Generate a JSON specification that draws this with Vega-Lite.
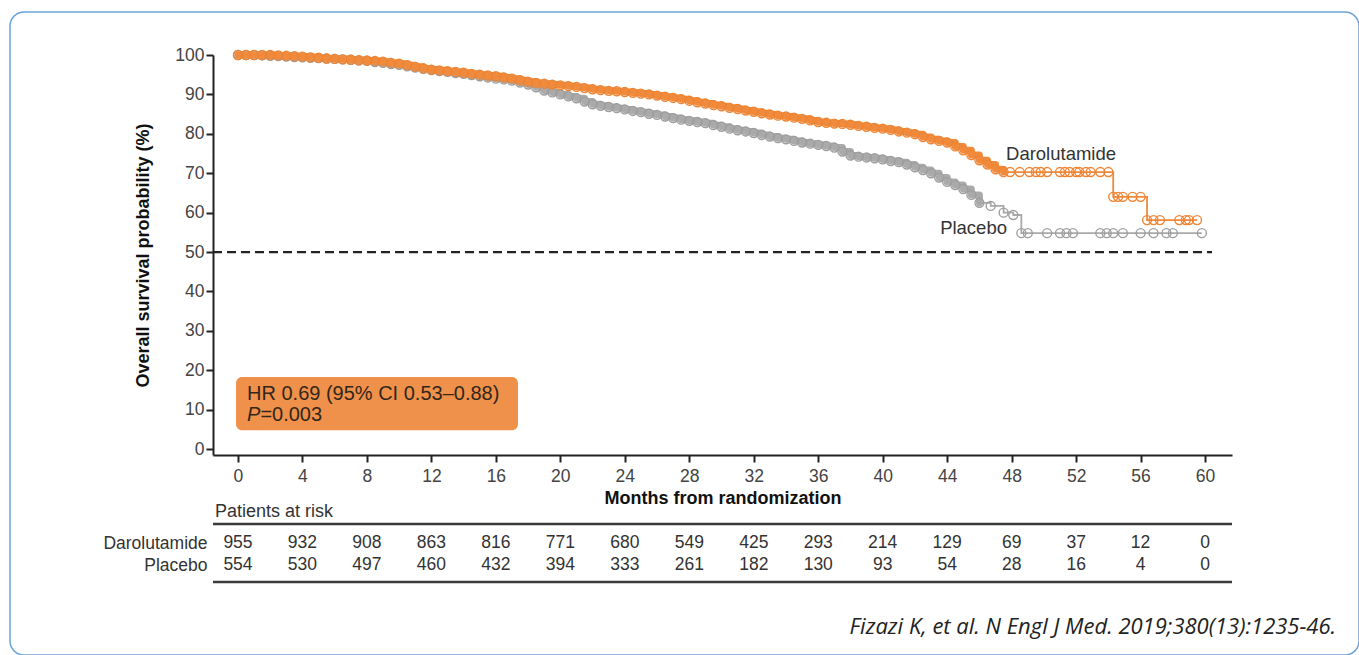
{
  "$schema": "https://vega.github.io/schema/vega-lite/v6.json",
  "width": 1349,
  "height": 643,
  "autosize": {"type": "none"},
  "padding": {"left": 10, "top": 12, "right": 0, "bottom": 0},
  "background": "white",
  "config": {
    "view": {"stroke": "#6FA3DC", "strokeWidth": 1.5, "cornerRadius": 14, "fill": "white"},
    "font": "Liberation Sans",
    "text": {"font": "Liberation Sans"}
  },
  "datasets": {
    "one": [{}],
    "dar": [
      {"m":0,"s":100},{"m":0.5,"s":100},{"m":1,"s":100},{"m":1.5,"s":100},{"m":2,"s":100},{"m":2.5,"s":99.9},
      {"m":3,"s":99.8},{"m":3.5,"s":99.7},{"m":4,"s":99.6},{"m":4.5,"s":99.4},{"m":5,"s":99.3},{"m":5.5,"s":99.1},
      {"m":6,"s":99.0},{"m":6.5,"s":98.9},{"m":7,"s":98.8},{"m":7.5,"s":98.7},{"m":8,"s":98.6},{"m":8.5,"s":98.5},
      {"m":9,"s":98.3},{"m":9.5,"s":98.0},{"m":10,"s":97.8},{"m":10.5,"s":97.4},{"m":11,"s":97.0},{"m":11.5,"s":96.6},
      {"m":12,"s":96.3},{"m":12.5,"s":96.1},{"m":13,"s":95.9},{"m":13.5,"s":95.7},{"m":14,"s":95.5},{"m":14.5,"s":95.2},
      {"m":15,"s":95.0},{"m":15.5,"s":94.8},{"m":16,"s":94.6},{"m":16.5,"s":94.3},{"m":17,"s":94.0},{"m":17.5,"s":93.6},
      {"m":18,"s":93.2},{"m":18.5,"s":92.9},{"m":19,"s":92.7},{"m":19.5,"s":92.5},{"m":20,"s":92.3},{"m":20.5,"s":92.1},
      {"m":21,"s":91.9},{"m":21.5,"s":91.6},{"m":22,"s":91.3},{"m":22.5,"s":91.1},{"m":23,"s":90.9},{"m":23.5,"s":90.8},
      {"m":24,"s":90.6},{"m":24.5,"s":90.4},{"m":25,"s":90.2},{"m":25.5,"s":90.0},{"m":26,"s":89.7},{"m":26.5,"s":89.4},
      {"m":27,"s":89.1},{"m":27.5,"s":88.8},{"m":28,"s":88.4},{"m":28.5,"s":88.0},{"m":29,"s":87.7},{"m":29.5,"s":87.3},
      {"m":30,"s":87.0},{"m":30.5,"s":86.6},{"m":31,"s":86.3},{"m":31.5,"s":85.9},{"m":32,"s":85.6},{"m":32.5,"s":85.2},
      {"m":33,"s":84.9},{"m":33.5,"s":84.6},{"m":34,"s":84.4},{"m":34.5,"s":84.1},{"m":35,"s":83.8},{"m":35.5,"s":83.4},
      {"m":36,"s":83.0},{"m":36.5,"s":82.8},{"m":37,"s":82.6},{"m":37.5,"s":82.5},{"m":38,"s":82.3},{"m":38.5,"s":82.0},
      {"m":39,"s":81.8},{"m":39.5,"s":81.5},{"m":40,"s":81.3},{"m":40.5,"s":81.0},{"m":41,"s":80.6},{"m":41.5,"s":80.3},
      {"m":42,"s":79.9},{"m":42.5,"s":79.2},{"m":43,"s":78.6},{"m":43.5,"s":78.2},{"m":44,"s":77.8},{"m":44.5,"s":76.8},
      {"m":45,"s":75.8},{"m":45.5,"s":74.6},{"m":46,"s":73.3},{"m":46.5,"s":72.2},{"m":47,"s":71.0},{"m":47.5,"s":70.3},
      {"m":47.9,"s":70.3},{"m":48.5,"s":70.3},{"m":49.1,"s":70.3},{"m":49.5,"s":70.3},{"m":49.8,"s":70.3},{"m":50.2,"s":70.3},
      {"m":51.0,"s":70.3},{"m":51.3,"s":70.3},{"m":51.6,"s":70.3},{"m":52.0,"s":70.3},{"m":52.2,"s":70.3},{"m":52.6,"s":70.3},
      {"m":52.9,"s":70.3},{"m":53.5,"s":70.3},{"m":54.0,"s":70.3},
      {"m":54.3,"s":64.0},{"m":54.6,"s":64.0},{"m":54.9,"s":64.0},{"m":55.5,"s":64.0},{"m":56.0,"s":64.0},
      {"m":56.4,"s":58.1},{"m":56.8,"s":58.1},{"m":57.2,"s":58.1},{"m":58.4,"s":58.1},{"m":58.8,"s":58.1},{"m":59.0,"s":58.1},{"m":59.5,"s":58.1}
    ],
    "pla": [
      {"m":0,"s":100},{"m":0.5,"s":100},{"m":1,"s":100},{"m":1.5,"s":99.9},{"m":2,"s":99.8},{"m":2.5,"s":99.7},
      {"m":3,"s":99.6},{"m":3.5,"s":99.5},{"m":4,"s":99.4},{"m":4.5,"s":99.3},{"m":5,"s":99.2},{"m":5.5,"s":99.1},
      {"m":6,"s":99.0},{"m":6.5,"s":98.9},{"m":7,"s":98.8},{"m":7.5,"s":98.6},{"m":8,"s":98.5},{"m":8.5,"s":98.2},
      {"m":9,"s":98.0},{"m":9.5,"s":97.7},{"m":10,"s":97.5},{"m":10.5,"s":97.1},{"m":11,"s":96.8},{"m":11.5,"s":96.5},
      {"m":12,"s":96.2},{"m":12.5,"s":95.9},{"m":13,"s":95.7},{"m":13.5,"s":95.4},{"m":14,"s":95.2},{"m":14.5,"s":94.9},
      {"m":15,"s":94.6},{"m":15.5,"s":94.3},{"m":16,"s":94.0},{"m":16.5,"s":93.8},{"m":17,"s":93.5},{"m":17.5,"s":93.0},
      {"m":18,"s":92.5},{"m":18.5,"s":91.8},{"m":19,"s":91.0},{"m":19.5,"s":90.5},{"m":20,"s":90.0},{"m":20.5,"s":89.5},
      {"m":21,"s":89.0},{"m":21.5,"s":88.2},{"m":22,"s":87.5},{"m":22.5,"s":87.1},{"m":23,"s":86.8},{"m":23.5,"s":86.5},
      {"m":24,"s":86.2},{"m":24.5,"s":85.8},{"m":25,"s":85.5},{"m":25.5,"s":85.1},{"m":26,"s":84.8},{"m":26.5,"s":84.4},
      {"m":27,"s":84.0},{"m":27.5,"s":83.6},{"m":28,"s":83.3},{"m":28.5,"s":83.0},{"m":29,"s":82.7},{"m":29.5,"s":82.2},
      {"m":30,"s":81.8},{"m":30.5,"s":81.3},{"m":31,"s":80.9},{"m":31.5,"s":80.6},{"m":32,"s":80.2},{"m":32.5,"s":79.7},
      {"m":33,"s":79.3},{"m":33.5,"s":78.9},{"m":34,"s":78.6},{"m":34.5,"s":78.2},{"m":35,"s":77.8},{"m":35.5,"s":77.5},
      {"m":36,"s":77.2},{"m":36.5,"s":76.9},{"m":37,"s":76.5},{"m":37.5,"s":75.5},{"m":38,"s":74.5},{"m":38.5,"s":74.2},
      {"m":39,"s":74.0},{"m":39.5,"s":73.8},{"m":40,"s":73.5},{"m":40.5,"s":73.1},{"m":41,"s":72.8},{"m":41.5,"s":72.2},
      {"m":42,"s":71.5},{"m":42.5,"s":70.8},{"m":43,"s":70.0},{"m":43.5,"s":68.9},{"m":44,"s":67.8},{"m":44.5,"s":67.0},
      {"m":45,"s":66.0},{"m":45.5,"s":64.5},{"m":46,"s":62.5},{"m":46.7,"s":61.7},{"m":47.5,"s":60.0},{"m":48.1,"s":59.4},
      {"m":48.6,"s":54.8},{"m":49.0,"s":54.8},{"m":50.2,"s":54.8},{"m":51.0,"s":54.8},{"m":51.4,"s":54.8},{"m":51.8,"s":54.8},
      {"m":53.5,"s":54.8},{"m":53.9,"s":54.8},{"m":54.3,"s":54.8},{"m":54.9,"s":54.8},{"m":56.0,"s":54.8},{"m":56.8,"s":54.8},
      {"m":57.6,"s":54.8},{"m":58.0,"s":54.8},{"m":59.8,"s":54.8}
    ],
    "risk": [
      {"g":"Darolutamide","m":0,"n":955},{"g":"Darolutamide","m":4,"n":932},{"g":"Darolutamide","m":8,"n":908},{"g":"Darolutamide","m":12,"n":863},
      {"g":"Darolutamide","m":16,"n":816},{"g":"Darolutamide","m":20,"n":771},{"g":"Darolutamide","m":24,"n":680},{"g":"Darolutamide","m":28,"n":549},
      {"g":"Darolutamide","m":32,"n":425},{"g":"Darolutamide","m":36,"n":293},{"g":"Darolutamide","m":40,"n":214},{"g":"Darolutamide","m":44,"n":129},
      {"g":"Darolutamide","m":48,"n":69},{"g":"Darolutamide","m":52,"n":37},{"g":"Darolutamide","m":56,"n":12},{"g":"Darolutamide","m":60,"n":0},
      {"g":"Placebo","m":0,"n":554},{"g":"Placebo","m":4,"n":530},{"g":"Placebo","m":8,"n":497},{"g":"Placebo","m":12,"n":460},
      {"g":"Placebo","m":16,"n":432},{"g":"Placebo","m":20,"n":394},{"g":"Placebo","m":24,"n":333},{"g":"Placebo","m":28,"n":261},
      {"g":"Placebo","m":32,"n":182},{"g":"Placebo","m":36,"n":130},{"g":"Placebo","m":40,"n":93},{"g":"Placebo","m":44,"n":54},
      {"g":"Placebo","m":48,"n":28},{"g":"Placebo","m":52,"n":16},{"g":"Placebo","m":56,"n":4},{"g":"Placebo","m":60,"n":0}
    ]
  },
  "layer": [
    {
      "layer": [
        {
          "data": {"name": "pla"},
          "transform": [{"filter": "datum.m <= 46"}],
          "mark": {"type": "line", "interpolate": "step-after", "strokeWidth": 7, "strokeJoin": "round", "strokeCap": "round", "color": "#ABABAB"},
          "encoding": {
            "x": {"field": "m", "type": "quantitative",
              "scale": {"domain": [-1.55, 61.67], "range": [203, 1222], "nice": false, "zero": false},
              "axis": {"orient": "bottom", "offset": -200, "values": [0,4,8,12,16,20,24,28,32,36,40,44,48,52,56,60],
                "title": "Months from randomization", "titleFontSize": 18, "titleFontWeight": "bold", "titleColor": "#111",
                "titlePadding": 5, "labelFontSize": 17.5, "labelColor": "#444", "labelPadding": 5, "labelFlush": false,
                "tickSize": 7, "tickColor": "#222", "tickWidth": 2, "domainColor": "#222", "domainWidth": 2, "grid": false}},
            "y": {"field": "s", "type": "quantitative",
              "scale": {"domain": [-1.5, 100], "range": [443, 43], "nice": false, "zero": false},
              "axis": {"orient": "left", "offset": -203, "values": [0,10,20,30,40,50,60,70,80,90,100],
                "title": "Overall survival probability (%)", "titleFontSize": 18, "titleFontWeight": "bold", "titleColor": "#111",
                "titlePadding": 22, "labelFontSize": 17.5, "labelColor": "#444", "labelPadding": 2,
                "tickSize": 7, "tickColor": "#222", "tickWidth": 2, "domainColor": "#222", "domainWidth": 2, "grid": false}}
          }
        },
        {
          "data": {"name": "pla"},
          "mark": {"type": "line", "interpolate": "step-after", "strokeWidth": 1.8, "color": "#A9A9A9"},
          "encoding": {"x": {"field": "m", "type": "quantitative"}, "y": {"field": "s", "type": "quantitative"}}
        },
        {
          "data": {"name": "pla"},
          "mark": {"type": "point", "shape": "circle", "filled": false, "size": 80, "strokeWidth": 1.4, "color": "#9E9E9E", "opacity": 1},
          "encoding": {"x": {"field": "m", "type": "quantitative"}, "y": {"field": "s", "type": "quantitative"}}
        },
        {
          "data": {"name": "dar"},
          "transform": [{"filter": "datum.m <= 47.5"}],
          "mark": {"type": "line", "interpolate": "step-after", "strokeWidth": 7, "strokeJoin": "round", "strokeCap": "round", "color": "#F08A3C"},
          "encoding": {"x": {"field": "m", "type": "quantitative"}, "y": {"field": "s", "type": "quantitative"}}
        },
        {
          "data": {"name": "dar"},
          "mark": {"type": "line", "interpolate": "step-after", "strokeWidth": 1.8, "color": "#F08A3C"},
          "encoding": {"x": {"field": "m", "type": "quantitative"}, "y": {"field": "s", "type": "quantitative"}}
        },
        {
          "data": {"name": "dar"},
          "mark": {"type": "point", "shape": "circle", "filled": false, "size": 80, "strokeWidth": 1.4, "color": "#EE8534", "opacity": 1},
          "encoding": {"x": {"field": "m", "type": "quantitative"}, "y": {"field": "s", "type": "quantitative"}}
        },
        {
          "data": {"name": "one"},
          "mark": {"type": "rule", "color": "#222", "strokeWidth": 2.2, "strokeDash": [9, 5]},
          "encoding": {"x": {"datum": -1.55}, "x2": {"datum": 60.43}, "y": {"datum": 50}}
        },
        {
          "data": {"name": "one"},
          "mark": {"type": "rect", "color": "#EF914A", "cornerRadius": 6},
          "encoding": {"x": {"datum": -0.12}, "x2": {"datum": 17.37}, "y": {"datum": 18.3}, "y2": {"datum": 4.8}}
        },
        {
          "data": {"name": "one"},
          "mark": {"type": "text", "text": "HR 0.69 (95% CI 0.53–0.88)", "align": "left", "baseline": "middle", "fontSize": 20, "color": "#33261a"},
          "encoding": {"x": {"datum": 0.56}, "y": {"datum": 13.95}}
        },
        {
          "data": {"name": "one"},
          "mark": {"type": "text", "text": "P", "align": "left", "baseline": "middle", "fontSize": 20, "fontStyle": "italic", "color": "#33261a"},
          "encoding": {"x": {"datum": 0.56}, "y": {"datum": 8.55}}
        },
        {
          "data": {"name": "one"},
          "mark": {"type": "text", "text": "=0.003", "align": "left", "baseline": "middle", "fontSize": 20, "color": "#33261a"},
          "encoding": {"x": {"datum": 1.39}, "y": {"datum": 8.55}}
        },
        {
          "data": {"name": "one"},
          "mark": {"type": "text", "text": "Darolutamide", "align": "left", "baseline": "middle", "fontSize": 18.5, "color": "#333"},
          "encoding": {"x": {"datum": 47.65}, "y": {"datum": 74.9}}
        },
        {
          "data": {"name": "one"},
          "mark": {"type": "text", "text": "Placebo", "align": "right", "baseline": "middle", "fontSize": 18.5, "color": "#333"},
          "encoding": {"x": {"datum": 47.71}, "y": {"datum": 56.1}}
        },
        {
          "data": {"name": "one"},
          "mark": {"type": "text", "text": "Patients at risk", "align": "left", "baseline": "middle", "fontSize": 18, "color": "#333"},
          "encoding": {"x": {"datum": -1.43}, "y": {"datum": -16.0}}
        },
        {
          "data": {"name": "one"},
          "mark": {"type": "rule", "color": "#3a3a3a", "strokeWidth": 2.5},
          "encoding": {"x": {"datum": -1.55}, "x2": {"datum": 61.67}, "y": {"datum": -19.0}}
        },
        {
          "data": {"name": "one"},
          "mark": {"type": "rule", "color": "#3a3a3a", "strokeWidth": 2.5},
          "encoding": {"x": {"datum": -1.55}, "x2": {"datum": 61.67}, "y": {"datum": -33.7}}
        },
        {
          "data": {"name": "one"},
          "mark": {"type": "text", "text": "Fizazi K, et al. N Engl J Med. 2019;380(13):1235-46.", "align": "right", "baseline": "middle",
            "font": "Open Sans", "fontStyle": "italic", "fontSize": 22, "color": "#222"},
          "encoding": {"x": {"datum": 68.13}, "y": {"datum": -45.2}}
        }
      ]
    },
    {
      "data": {"name": "risk"},
      "mark": {"type": "text", "align": "center", "baseline": "middle", "fontSize": 17.5, "color": "#333"},
      "encoding": {
        "x": {"field": "m", "type": "quantitative"},
        "y": {"field": "g", "type": "nominal",
          "scale": {"type": "point", "domain": ["Darolutamide", "Placebo"], "range": [531, 553], "padding": 0},
          "axis": {"orient": "left", "offset": -203, "title": null, "domain": false, "ticks": false,
            "labelPadding": 6, "labelFontSize": 17.5, "labelColor": "#333"}},
        "text": {"field": "n", "type": "quantitative"}
      }
    }
  ],
  "resolve": {"scale": {"y": "independent"}, "axis": {"y": "independent"}}
}
